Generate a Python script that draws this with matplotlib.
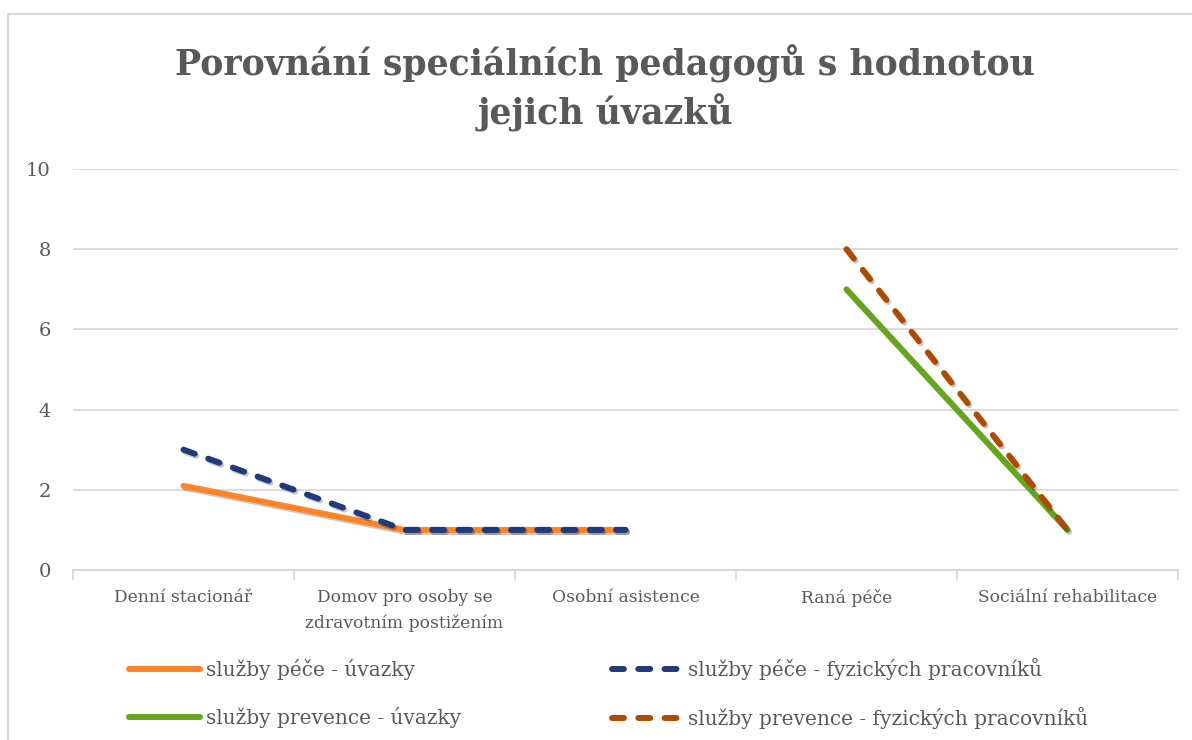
import numpy as np
import matplotlib
matplotlib.use("Agg")
import matplotlib.pyplot as plt
import matplotlib.patheffects as pe
from matplotlib.patches import Rectangle

categories = ["Denní stacionář", "Domov pro osoby se\nzdravotním postižením",
              "Osobní asistence", "Raná péče", "Sociální rehabilitace"]
pece_uvazky = [2.1, 1, 1, np.nan, np.nan]
pece_fyzicti = [3, 1, 1, np.nan, np.nan]
prevence_uvazky = [np.nan, np.nan, np.nan, 7, 1]
prevence_fyzicti = [np.nan, np.nan, np.nan, 8, 1]
series_names = ["služby péče - úvazky", "služby péče - fyzických pracovníků",
                "služby prevence - úvazky", "služby prevence - fyzických pracovníků"]
yticks = [0, 2, 4, 6, 8, 10]

FONT = "DejaVu Serif"
TXT = "#595959"
W, H = 1192, 740
fig = plt.figure(figsize=(W / 100, H / 100), dpi=100)

fig.patches.append(Rectangle((8 / W, -0.05), 1.2, (H - 14) / H + 0.05, transform=fig.transFigure,
                             fill=False, edgecolor="#D9D9D9", linewidth=1.5))

ax = fig.add_axes([73 / W, (H - 570) / H, (1178 - 73) / W, (570 - 169) / H])
x = np.arange(len(categories))
lw = 4.3
shadow = [pe.SimpleLineShadow(offset=(1.2, -1.5), shadow_color="k", alpha=0.22), pe.Normal()]
dash = (0, (2.0, 2.4))

l1, = ax.plot(x, pece_uvazky, color="#FF8428", lw=lw, solid_capstyle="round", path_effects=shadow,
              label=series_names[0], zorder=3)
l2, = ax.plot(x, pece_fyzicti, color="#203A7C", lw=lw, linestyle=dash, dash_capstyle="round",
              path_effects=shadow, label=series_names[1], zorder=4)
l3, = ax.plot(x, prevence_uvazky, color="#66A61E", lw=lw, solid_capstyle="round", path_effects=shadow,
              label=series_names[2], zorder=3)
l4, = ax.plot(x, prevence_fyzicti, color="#B04A00", lw=lw, linestyle=dash, dash_capstyle="round",
              path_effects=shadow, label=series_names[3], zorder=4)

ax.set_xlim(-0.5, len(categories) - 0.5)
ax.set_ylim(0, 10)
ax.set_yticks(yticks)
ax.set_yticklabels([str(v) for v in yticks], fontfamily=FONT, fontsize=14, color=TXT)
ax.set_xticks(x)
ax.set_xticklabels(categories, fontfamily=FONT, fontsize=12.3, color=TXT, linespacing=1.6)
ax.set_xticks(np.arange(len(categories) + 1) - 0.5, minor=True)
ax.tick_params(axis="x", which="major", length=0, pad=14)
ax.tick_params(axis="x", which="minor", length=7, color="#D9D9D9", width=1.3)
ax.tick_params(axis="y", length=0, pad=16)
ax.grid(axis="y", color="#D9D9D9", linewidth=1.3)
ax.set_axisbelow(True)
for s in ["top", "right", "left"]:
    ax.spines[s].set_visible(False)
ax.spines["bottom"].set_color("#D9D9D9")
ax.spines["bottom"].set_linewidth(1.5)

fig.text(605 / W, (H - 88) / H, "Porovnání speciálních pedagogů s hodnotou\njejich úvazků",
         ha="center", va="center", fontfamily=FONT, fontweight="bold", fontsize=25, color=TXT,
         linespacing=1.35)

leg = fig.legend([l1, l3, l2, l4], [series_names[0], series_names[2], series_names[1], series_names[3]],
                 ncol=2, loc="upper left", bbox_to_anchor=(111 / W, (H - 640) / H),
                 frameon=False, prop={"family": FONT, "size": 14.5}, handlelength=3.5,
                 handletextpad=0.3, columnspacing=7.5, labelspacing=1.35, labelcolor=TXT)
for h in leg.legend_handles:
    h.set_path_effects([])

fig.savefig("out.png", dpi=100)
